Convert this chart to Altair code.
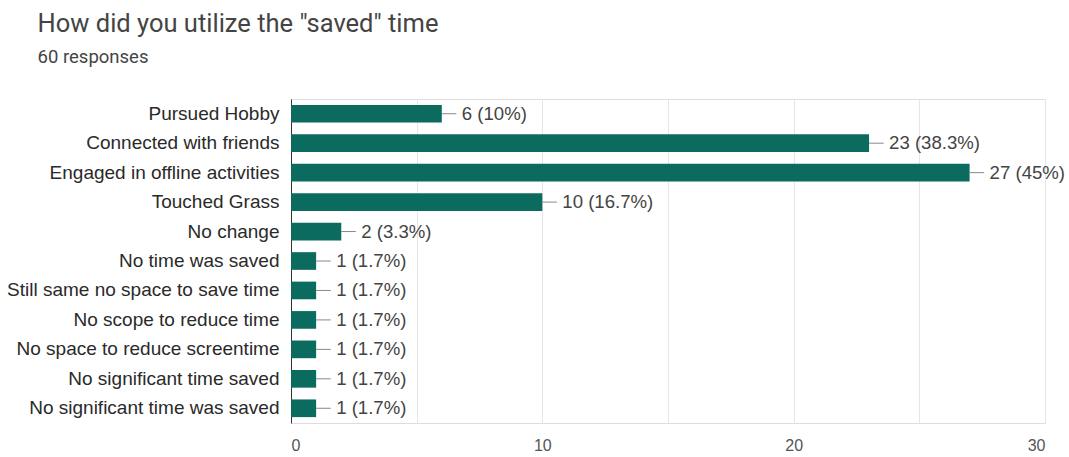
import altair as alt
import pandas as pd

categories = [
    "Pursued Hobby",
    "Connected with friends",
    "Engaged in offline activities",
    "Touched Grass",
    "No change",
    "No time was saved",
    "Still same no space to save time",
    "No scope to reduce time",
    "No space to reduce screentime",
    "No significant time saved",
    "No significant time was saved",
]
counts = [6, 23, 27, 10, 2, 1, 1, 1, 1, 1, 1]
percent_labels = ["10%", "38.3%", "45%", "16.7%", "3.3%", "1.7%", "1.7%", "1.7%", "1.7%", "1.7%", "1.7%"]
x_ticks = [0, 5, 10, 15, 20, 25, 30]

df = pd.DataFrame({"category": categories, "count": counts, "pct": percent_labels})
df["label"] = df["count"].astype(str) + " (" + df["pct"] + ")"
df["lead_end"] = df["count"] + 0.58

y_enc = alt.Y(
    "category:N",
    sort=categories,
    title=None,
    scale=alt.Scale(paddingInner=0.4, paddingOuter=0.2),
    axis=alt.Axis(
        labelFont="Liberation Sans",
        labelFontSize=19,
        labelColor="#2a2a2a",
        labelPadding=12,
        ticks=False,
        domainColor="#333333",
        domainWidth=1,
        labelLimit=400,
    ),
)

bars = alt.Chart(df).mark_bar(color="#0b6b5f").encode(
    x=alt.X(
        "count:Q",
        title=None,
        scale=alt.Scale(domain=[0, 30], nice=False),
        axis=alt.Axis(
            values=x_ticks,
            labelExpr="datum.value % 10 == 0 ? datum.label : ''",
            labelFont="Liberation Sans",
            labelFontSize=16,
            labelColor="#555555",
            labelPadding=14,
            ticks=False,
            domain=False,
            gridColor="#e6e6e6",
        ),
    ),
    y=y_enc,
)

leaders = alt.Chart(df).mark_rule(color="#888888", strokeWidth=1).encode(
    x="count:Q", x2="lead_end:Q", y=alt.Y("category:N", sort=categories)
)

texts = alt.Chart(df).mark_text(
    align="left", baseline="middle", dx=20, font="Liberation Sans", fontSize=18.6, color="#444444"
).encode(x="count:Q", y=alt.Y("category:N", sort=categories), text="label:N")

chart = (
    alt.layer(bars, leaders, texts)
    .properties(
        width=754,
        height=324,
        title=alt.TitleParams(
            text='How did you utilize the "saved" time',
            subtitle="60 responses",
            anchor="start",
            frame="bounds",
            dx=31,
            font="Roboto",
            fontSize=25.5,
            fontWeight="normal",
            color="#444444",
            subtitleFont="Roboto",
            subtitleFontSize=18.5,
            subtitleColor="#444444",
            subtitlePadding=10,
            offset=33,
        ),
        padding={"left": 6, "top": 12, "right": 0, "bottom": 2},
    )
    .configure_view(stroke="#eeeeee")
    .configure(background="white")
)

chart.save("out.html", embed_options={"renderer": "svg", "actions": False})
